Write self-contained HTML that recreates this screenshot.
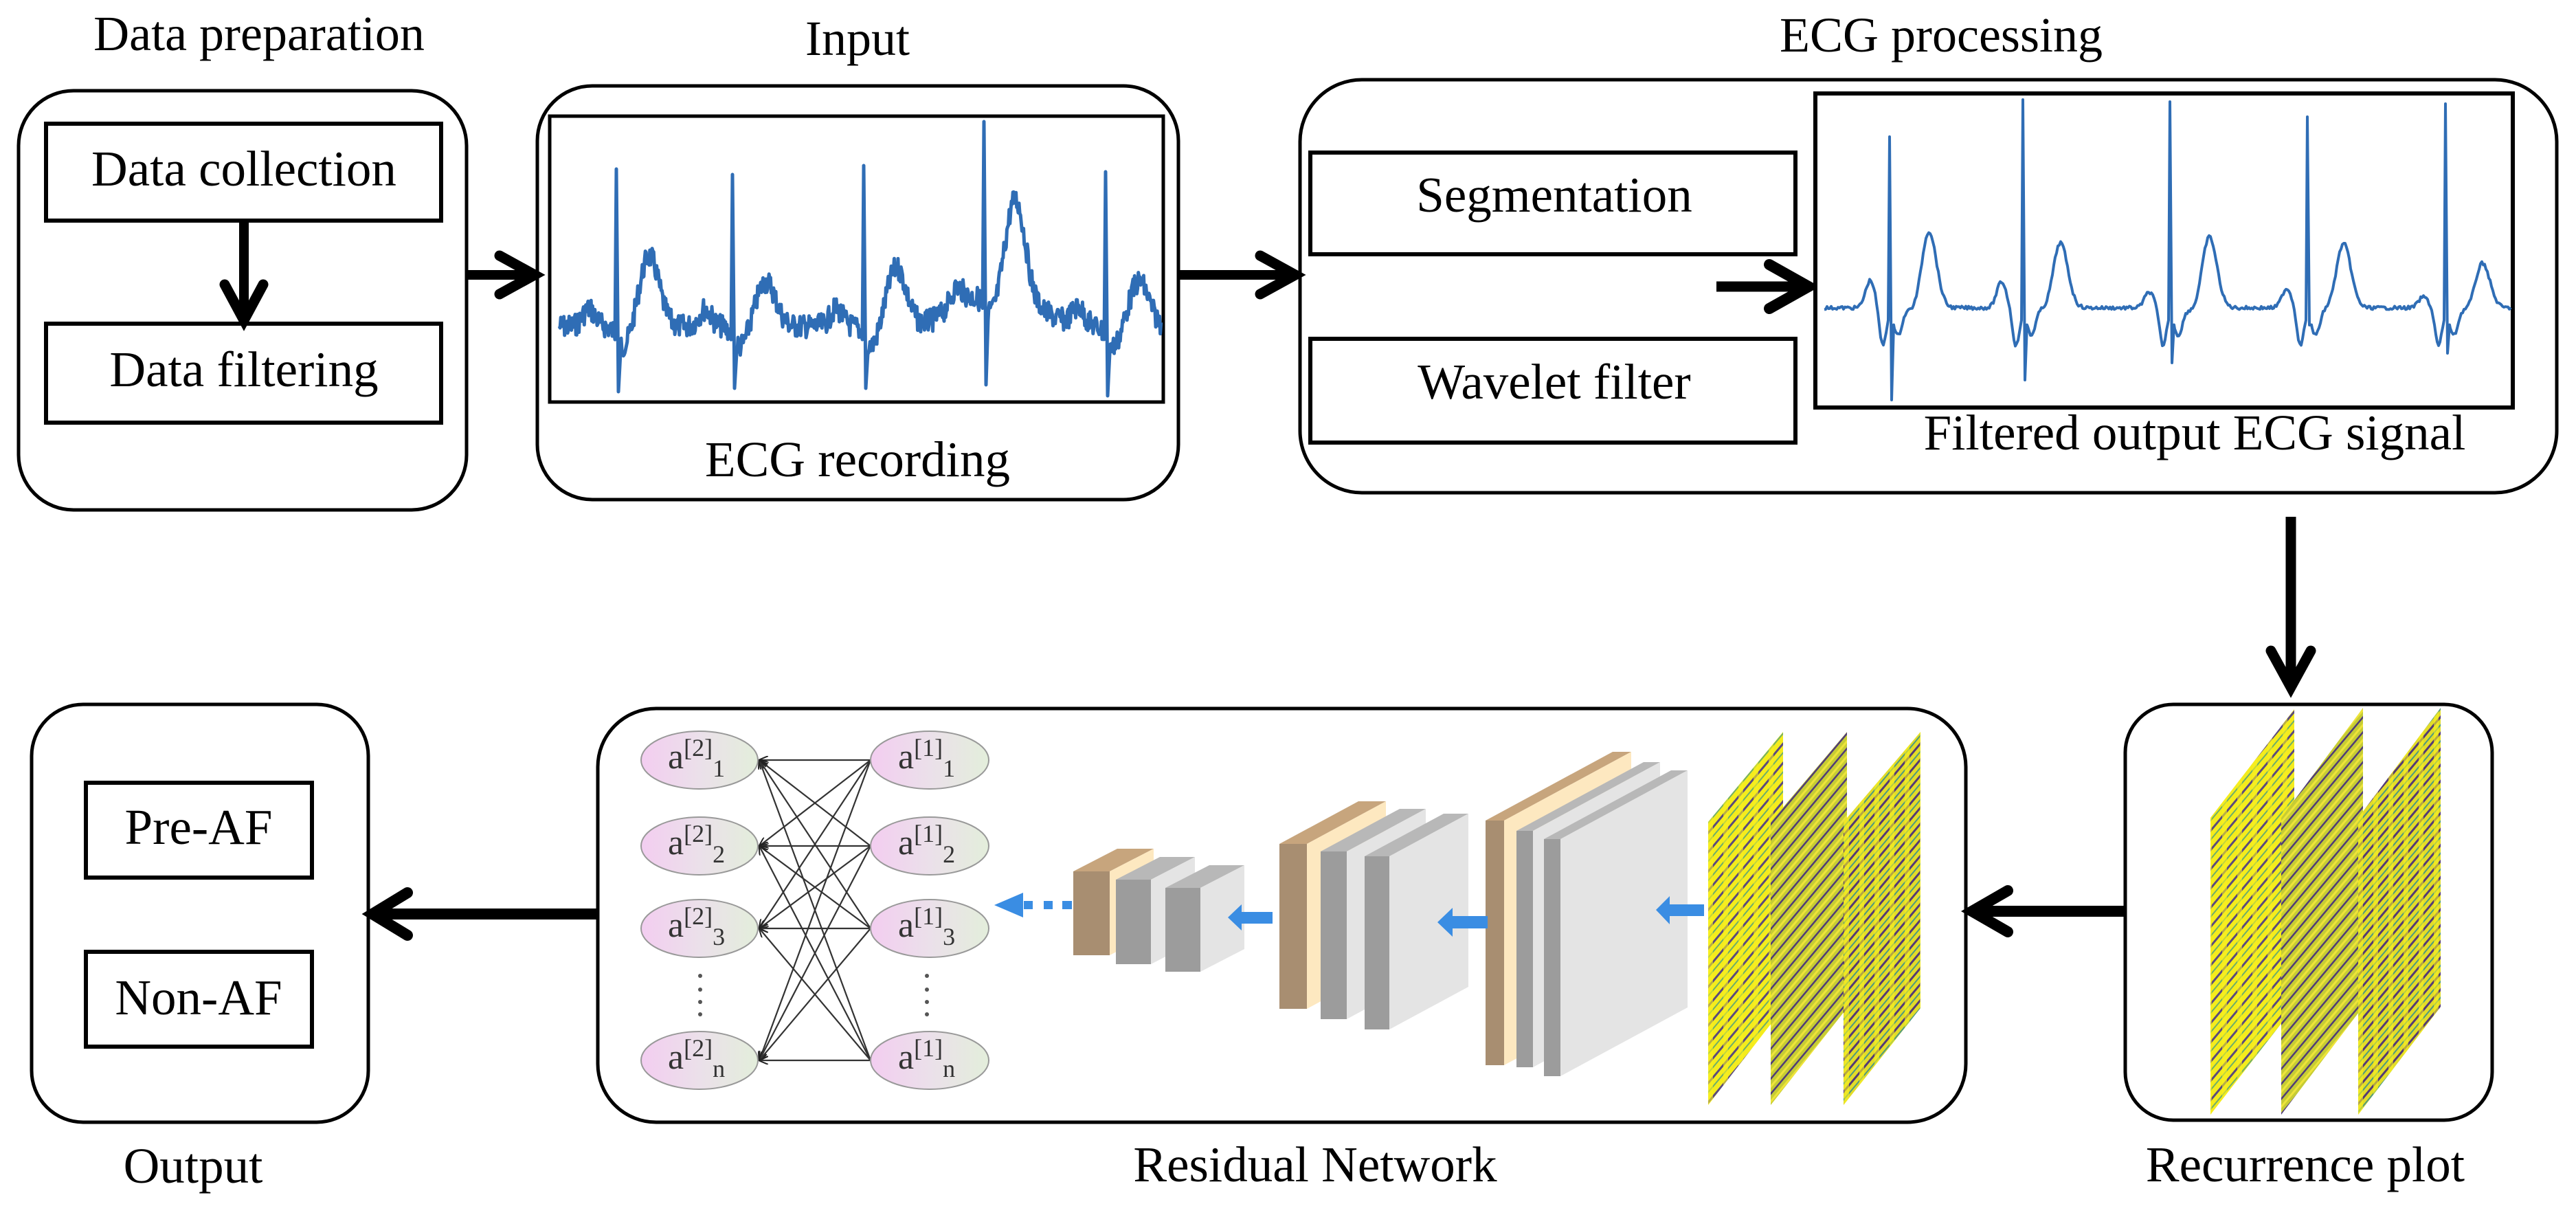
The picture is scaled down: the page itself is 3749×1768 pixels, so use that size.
<!DOCTYPE html>
<html><head><meta charset="utf-8">
<style>
html,body{margin:0;padding:0;background:#fff;}
svg{display:block;}
svg text{font-family:"Liberation Serif","DejaVu Serif",serif;}
</style></head>
<body>
<svg id="s" width="3749" height="1768" viewBox="0 0 3749 1768" xmlns="http://www.w3.org/2000/svg" font-family="'Liberation Serif', 'DejaVu Serif', serif">
<defs>
<linearGradient id="ng" x1="0" y1="0" x2="1" y2="0">
<stop offset="0" stop-color="#f3cdf0"/><stop offset="0.5" stop-color="#ebe0ea"/><stop offset="1" stop-color="#e3eedb"/>
</linearGradient>
<pattern id="rp1" patternUnits="userSpaceOnUse" width="18" height="18" patternTransform="rotate(-50)">
<rect width="18" height="18" fill="#f4ec1c"/>
<rect y="0" width="18" height="3" fill="#5a4a7e"/>
<rect y="9" width="18" height="2" fill="#6fae6a"/>
</pattern>
<pattern id="rp2" patternUnits="userSpaceOnUse" width="14" height="14" patternTransform="rotate(-50)">
<rect width="14" height="14" fill="#c6cc34"/>
<rect y="0" width="14" height="2.5" fill="#4f3b78"/>
<rect y="7" width="14" height="3" fill="#eee43a"/>
</pattern>
<pattern id="rp3" patternUnits="userSpaceOnUse" width="15" height="15" patternTransform="rotate(-50)">
<rect width="15" height="15" fill="#e2dc28"/>
<rect y="0" width="15" height="3" fill="#533a76"/>
<rect y="8" width="15" height="2" fill="#4f9a80"/>
</pattern>
<pattern id="vs" patternUnits="userSpaceOnUse" width="22" height="22">
<rect x="0" width="7" height="22" fill="#f8f020" opacity="0.6"/>
</pattern>
<marker id="ah" markerWidth="14" markerHeight="12" refX="13" refY="6" orient="auto" markerUnits="userSpaceOnUse">
<path d="M14,6 L0,0 M14,6 L0,12" stroke="#222" stroke-width="2" fill="none"/>
</marker>
</defs>

<!-- Titles -->
<text x="377" y="73" font-size="72" text-anchor="middle">Data preparation</text>
<text x="1248" y="80" font-size="72" text-anchor="middle">Input</text>
<text x="2825" y="75" font-size="72" text-anchor="middle">ECG processing</text>

<!-- Box 1 -->
<rect x="27" y="132" width="652" height="610" rx="80" ry="80" fill="none" stroke="#000" stroke-width="5"/>
<rect x="67" y="180" width="575" height="141" fill="none" stroke="#000" stroke-width="6"/>
<text x="355" y="270" font-size="73" text-anchor="middle">Data collection</text>
<rect x="67" y="471" width="575" height="144" fill="none" stroke="#000" stroke-width="6"/>
<text x="355" y="562" font-size="73" text-anchor="middle">Data filtering</text>
<line x1="355" y1="321" x2="355" y2="462" stroke="#000" stroke-width="14"/>
<polyline points="327,414 355,466 383,414" fill="none" stroke="#000" stroke-width="15" stroke-linecap="round" stroke-linejoin="miter"/>

<!-- arrow 1 -->
<line x1="679" y1="400" x2="772" y2="400" stroke="#000" stroke-width="14"/>
<polyline points="727,372 778,400 727,428" fill="none" stroke="#000" stroke-width="15" stroke-linecap="round"/>

<!-- Box 2 -->
<rect x="782" y="125" width="933" height="602" rx="80" ry="80" fill="none" stroke="#000" stroke-width="5"/>
<rect x="800" y="169" width="893" height="416" fill="#fff" stroke="#000" stroke-width="5"/>
<path id="ecg1" d="" fill="none" stroke="#2f6db5" stroke-width="5" stroke-linejoin="round"/>
<text x="1248" y="693" font-size="73" text-anchor="middle">ECG recording</text>

<!-- arrow 2 -->
<line x1="1715" y1="400" x2="1882" y2="400" stroke="#000" stroke-width="14"/>
<polyline points="1834,372 1885,400 1834,428" fill="none" stroke="#000" stroke-width="15" stroke-linecap="round"/>

<!-- Box 3 -->
<rect x="1892" y="116" width="1829" height="601" rx="90" ry="90" fill="none" stroke="#000" stroke-width="5"/>
<rect x="1907" y="222" width="706" height="148" fill="none" stroke="#000" stroke-width="6"/>
<text x="2262" y="308" font-size="73" text-anchor="middle">Segmentation</text>
<rect x="1907" y="493" width="706" height="151" fill="none" stroke="#000" stroke-width="6"/>
<text x="2262" y="580" font-size="73" text-anchor="middle">Wavelet filter</text>
<line x1="2498" y1="417" x2="2628" y2="417" stroke="#000" stroke-width="15"/>
<polyline points="2575,385 2632,417 2575,449" fill="none" stroke="#000" stroke-width="16" stroke-linecap="round"/>
<rect x="2642" y="136" width="1015" height="457" fill="#fff" stroke="#000" stroke-width="6"/>
<path id="ecg2" d="" fill="none" stroke="#2f6db5" stroke-width="4" stroke-linejoin="round"/>
<text x="3194" y="654" font-size="73" text-anchor="middle">Filtered output ECG signal</text>

<!-- down arrow -->
<line x1="3334" y1="752" x2="3334" y2="998" stroke="#000" stroke-width="15"/>
<polyline points="3305,947 3334,1000 3363,947" fill="none" stroke="#000" stroke-width="15" stroke-linecap="round"/>

<!-- Output box -->
<rect x="46" y="1025" width="490" height="608" rx="75" ry="75" fill="none" stroke="#000" stroke-width="5"/>
<rect x="125" y="1139" width="329" height="138" fill="none" stroke="#000" stroke-width="6"/>
<text x="289" y="1228" font-size="73" text-anchor="middle">Pre-AF</text>
<rect x="125" y="1385" width="329" height="138" fill="none" stroke="#000" stroke-width="6"/>
<text x="289" y="1476" font-size="73" text-anchor="middle">Non-AF</text>
<text x="281" y="1721" font-size="73" text-anchor="middle">Output</text>

<!-- arrow residual -> output -->
<line x1="870" y1="1330" x2="545" y2="1330" stroke="#000" stroke-width="16"/>
<polyline points="593,1299 542,1330 593,1361" fill="none" stroke="#000" stroke-width="16" stroke-linecap="round"/>

<!-- Residual box -->
<rect x="870" y="1031" width="1991" height="602" rx="85" ry="85" fill="none" stroke="#000" stroke-width="5"/>
<text x="1914" y="1719" font-size="73" text-anchor="middle">Residual Network</text>

<!-- NN -->
<g id="nnlines" stroke="#333" stroke-width="2.2"></g>
<g>
<ellipse cx="1018" cy="1106" rx="85" ry="42" fill="url(#ng)" stroke="#999" stroke-width="2"/>
<ellipse cx="1018" cy="1231" rx="85" ry="42" fill="url(#ng)" stroke="#999" stroke-width="2"/>
<ellipse cx="1018" cy="1351" rx="85" ry="42" fill="url(#ng)" stroke="#999" stroke-width="2"/>
<ellipse cx="1018" cy="1543" rx="85" ry="42" fill="url(#ng)" stroke="#999" stroke-width="2"/>
<ellipse cx="1353" cy="1106" rx="86" ry="42" fill="url(#ng)" stroke="#999" stroke-width="2"/>
<ellipse cx="1353" cy="1231" rx="86" ry="42" fill="url(#ng)" stroke="#999" stroke-width="2"/>
<ellipse cx="1353" cy="1351" rx="86" ry="42" fill="url(#ng)" stroke="#999" stroke-width="2"/>
<ellipse cx="1353" cy="1543" rx="86" ry="42" fill="url(#ng)" stroke="#999" stroke-width="2"/>
</g>
<g font-size="52" fill="#333">
<text x="972" y="1118" fill="#333">a<tspan font-size="36" dy="-18">[2]</tspan><tspan font-size="36" dy="30">1</tspan></text>
<text x="972" y="1243" fill="#333">a<tspan font-size="36" dy="-18">[2]</tspan><tspan font-size="36" dy="30">2</tspan></text>
<text x="972" y="1363" fill="#333">a<tspan font-size="36" dy="-18">[2]</tspan><tspan font-size="36" dy="30">3</tspan></text>
<text x="972" y="1555" fill="#333">a<tspan font-size="36" dy="-18">[2]</tspan><tspan font-size="36" dy="30">n</tspan></text>
<text x="1307" y="1118" fill="#333">a<tspan font-size="36" dy="-18">[1]</tspan><tspan font-size="36" dy="30">1</tspan></text>
<text x="1307" y="1243" fill="#333">a<tspan font-size="36" dy="-18">[1]</tspan><tspan font-size="36" dy="30">2</tspan></text>
<text x="1307" y="1363" fill="#333">a<tspan font-size="36" dy="-18">[1]</tspan><tspan font-size="36" dy="30">3</tspan></text>
<text x="1307" y="1555" fill="#333">a<tspan font-size="36" dy="-18">[1]</tspan><tspan font-size="36" dy="30">n</tspan></text>
</g>
<g fill="#555">
<circle cx="1019" cy="1420" r="3"/><circle cx="1019" cy="1440" r="3"/><circle cx="1019" cy="1458" r="3"/><circle cx="1019" cy="1476" r="3"/>
<circle cx="1349" cy="1420" r="3"/><circle cx="1349" cy="1440" r="3"/><circle cx="1349" cy="1458" r="3"/><circle cx="1349" cy="1476" r="3"/>
</g>

<!-- slabs small -->
<g>
<polygon points="1562,1268 1626,1235 1679,1235 1615,1268" fill="#c7a57d"/>
<polygon points="1615,1268 1679,1235 1679,1357 1615,1390" fill="#fde8c0"/>
<rect x="1562" y="1268" width="53" height="122" fill="#a88e71"/>
<polygon points="1624,1280 1688,1247 1739,1247 1675,1280" fill="#b8b8b8"/>
<polygon points="1675,1280 1739,1247 1739,1370 1675,1403" fill="#e4e4e4"/>
<rect x="1624" y="1280" width="51" height="123" fill="#9c9c9c"/>
<polygon points="1696,1292 1760,1259 1811,1259 1747,1292" fill="#b8b8b8"/>
<polygon points="1747,1292 1811,1259 1811,1381 1747,1414" fill="#e4e4e4"/>
<rect x="1696" y="1292" width="51" height="122" fill="#9c9c9c"/>
</g>
<!-- slabs medium -->
<g>
<polygon points="1862,1228 1977,1166 2017,1166 1902,1228" fill="#c7a57d"/>
<polygon points="1902,1228 2017,1166 2017,1406 1902,1468" fill="#fde8c0"/>
<rect x="1862" y="1228" width="40" height="240" fill="#a88e71"/>
<polygon points="1922,1239 2037,1177 2075,1177 1960,1239" fill="#b8b8b8"/>
<polygon points="1960,1239 2075,1177 2075,1421 1960,1483" fill="#e4e4e4"/>
<rect x="1922" y="1239" width="38" height="244" fill="#9c9c9c"/>
<polygon points="1986,1246 2101,1184 2137,1184 2022,1246" fill="#b8b8b8"/>
<polygon points="2022,1246 2137,1184 2137,1436 2022,1498" fill="#e4e4e4"/>
<rect x="1986" y="1246" width="36" height="252" fill="#9c9c9c"/>
</g>
<!-- slabs big -->
<g>
<polygon points="2162,1194 2347,1094 2374,1094 2189,1194" fill="#c7a57d"/>
<polygon points="2189,1194 2374,1094 2374,1450 2189,1550" fill="#fde8c0"/>
<rect x="2162" y="1194" width="27" height="356" fill="#a88e71"/>
<polygon points="2207,1209 2392,1109 2416,1109 2231,1209" fill="#b8b8b8"/>
<polygon points="2231,1209 2416,1109 2416,1453 2231,1553" fill="#e4e4e4"/>
<rect x="2207" y="1209" width="24" height="344" fill="#9c9c9c"/>
<polygon points="2247,1221 2432,1121 2456,1121 2271,1221" fill="#b8b8b8"/>
<polygon points="2271,1221 2456,1121 2456,1466 2271,1566" fill="#e4e4e4"/>
<rect x="2247" y="1221" width="24" height="345" fill="#9c9c9c"/>
</g>

<!-- residual panels -->
<polygon points="2486,1196 2595,1065 2595,1467 2486,1608" fill="url(#rp1)"/>
<polygon points="2486,1196 2595,1065 2595,1467 2486,1608" fill="url(#vs)"/>
<polygon points="2577,1196 2688,1065 2688,1467 2577,1608" fill="url(#rp2)"/>
<polygon points="2683,1196 2795,1065 2795,1467 2683,1608" fill="url(#rp3)"/>
<polygon points="2683,1196 2795,1065 2795,1467 2683,1608" fill="url(#vs)"/>

<!-- blue arrows (on top) -->
<g fill="#3a8de3">
<polygon points="1447,1317 1489,1299 1489,1335"/>
<rect x="1490" y="1311" width="13" height="12"/>
<rect x="1519" y="1311" width="13" height="12"/>
<rect x="1546" y="1311" width="14" height="12"/>
<polygon points="1787,1335 1807,1316 1807,1327 1852,1327 1852,1344 1807,1344 1807,1354"/>
<polygon points="2092,1342 2114,1321 2114,1333 2165,1333 2165,1351 2114,1351 2114,1363"/>
<polygon points="2410,1324 2430,1304 2430,1316 2480,1316 2480,1333 2430,1333 2430,1345"/>
</g>

<!-- arrow recurrence -> residual -->
<line x1="3095" y1="1326" x2="2873" y2="1326" stroke="#000" stroke-width="16"/>
<polyline points="2922,1296 2870,1326 2922,1356" fill="none" stroke="#000" stroke-width="16" stroke-linecap="round"/>

<!-- Recurrence box -->
<rect x="3093" y="1025" width="534" height="605" rx="70" ry="70" fill="none" stroke="#000" stroke-width="5"/>
<polygon points="3217,1190 3339,1032 3339,1465 3217,1622" fill="url(#rp1)"/>
<polygon points="3217,1190 3339,1032 3339,1465 3217,1622" fill="url(#vs)"/>
<polygon points="3320,1190 3439,1030 3439,1465 3320,1622" fill="url(#rp2)"/>
<polygon points="3432,1190 3552,1030 3552,1465 3432,1622" fill="url(#rp3)"/>
<polygon points="3432,1190 3552,1030 3552,1465 3432,1622" fill="url(#vs)"/>
<text x="3355" y="1719" font-size="73" text-anchor="middle">Recurrence plot</text>
</svg>
<script>
(function(){
var seed=7;function rnd(){seed=(seed*9301+49297)%233280;return seed/233280;}
function g(x,c,s){return Math.exp(-((x-c)*(x-c))/(2*s*s));}
var R=[897,1066,1257,1432,1609],Rt=[246,254,241,177,250],Sb=[570,565,565,560,576];
var T=[945,1115,1305,1478,1658],Tp=[373,410,390,334,410];
var base=475,pts=[];
function yb(x){var y=base;for(var i=0;i<T.length;i++){y-=(base-Tp[i])*g(x,T[i],14);y-=25*g(x,R[i]-40,9);y+=30*g(x,R[i]+12,10);}
 y-=45*g(x,1465,45);y-=20*g(x,1400,30);return y;}
var x=814;
while(x<=1690){
 var near=-1;for(var i=0;i<R.length;i++){if(x>=R[i]-4&&x<R[i]+6)near=i;}
 if(near>=0){var r=R[near];pts.push([r-2,yb(r-2)+8]);pts.push([r,Rt[near]]);pts.push([r+3,Sb[near]]);pts.push([r+6,yb(r+6)+15]);x=r+7;continue;}
 var n=(rnd()-0.5)*34;pts.push([x,yb(x)+n]);x+=1.1;
}
document.getElementById("ecg1").setAttribute("d","M"+pts.map(function(p){return p[0].toFixed(1)+","+p[1].toFixed(1);}).join(" L"));
var R2=[2750,2944,3158,3358,3559],Rt2=[199,145,148,170,151],Sb2=[582,553,528,473,514];
var T2=[2807,2998,3215,3410,3612],Tp2=[334,349,342,349,378];
var P2=[2722,2913,3128,3328,3527],Pp2=[412,414,429,424,436];
var b2=448;
function yf(x){var y=b2;for(var i=0;i<5;i++){y-=(b2-Tp2[i])*g(x,T2[i],11);y-=(b2-Pp2[i]+4)*g(x,P2[i],7);
 y+=55*g(x,R2[i]-10,5);y+=40*g(x,R2[i]+12,6);y+=12*g(x,R2[i]+40,10);}return y;}
var p2=[];x=2655;
while(x<=3655){
 var nr=-1;for(var i=0;i<5;i++){if(x>=R2[i]-3&&x<R2[i]+5)nr=i;}
 if(nr>=0){var r=R2[nr];p2.push([r-2,yf(r-2)]);p2.push([r,Rt2[nr]]);p2.push([r+3,Sb2[nr]]);p2.push([r+6,yf(r+6)]);x=r+7;continue;}
 p2.push([x,yf(x)+(rnd()-0.5)*5]);x+=2;
}
document.getElementById("ecg2").setAttribute("d","M"+p2.map(function(p){return p[0].toFixed(1)+","+p[1].toFixed(1);}).join(" L"));
var ys=[1106,1231,1351,1543],gl=document.getElementById("nnlines"),ns="http://www.w3.org/2000/svg";
for(var j=0;j<4;j++)for(var i=0;i<4;i++){var l=document.createElementNS(ns,"line");
 l.setAttribute("x1",1267);l.setAttribute("y1",ys[j]);l.setAttribute("x2",1105);l.setAttribute("y2",ys[i]);
 l.setAttribute("marker-end","url(#ah)");gl.appendChild(l);}
})();
</script>
</body></html>
